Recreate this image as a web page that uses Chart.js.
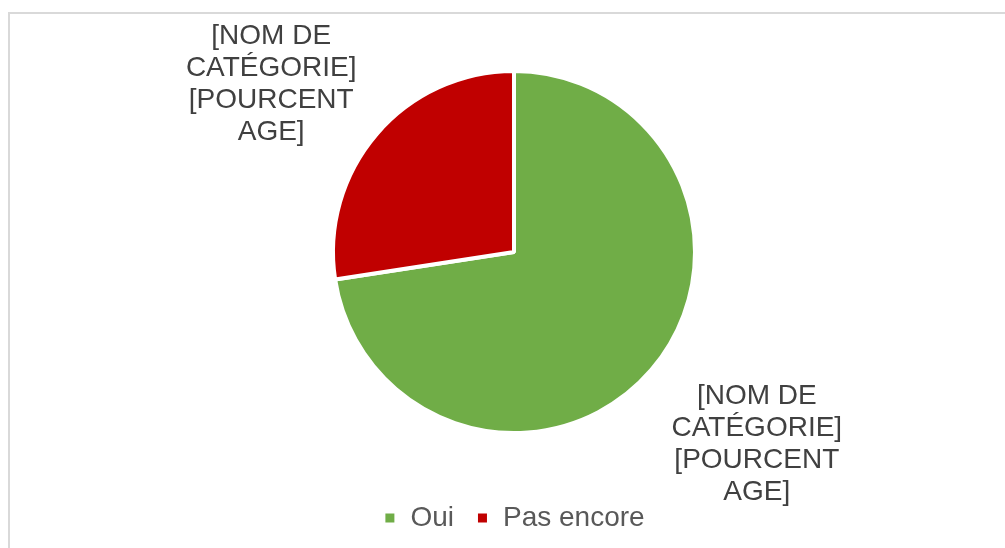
<!DOCTYPE html>
<html>
<head>
<meta charset="utf-8">
<script src="https://cdn.jsdelivr.net/npm/chart.js@4/dist/chart.umd.min.js"></script>
<style>
	html, body {
		margin: 0;
		padding: 0;
		width: 1005px;
		height: 548px;
		overflow: hidden;
		background: #ffffff;
	}
	#frame {
		position: absolute;
		left: 8px;
		top: 12px;
		width: 1100px;
		height: 600px;
		border: 2px solid #d9d9d9;
	}
	#wrap {
		position: absolute;
		left: 0;
		top: 0;
		width: 1005px;
		height: 548px;
	}
</style>
</head>
<body>
<div id="frame"></div>
<div id="wrap"><canvas id="pie"></canvas></div>
<script>
const categories = ["Oui", "Pas encore"];
const values = [45, 17];
const sliceColors = ["#70ad47", "#c00000"];
const dataLabelLines = ["[NOM DE", "CATÉGORIE]", "[POURCENT", "AGE]"];

// étiquettes de données placées hors du camembert, au milieu de chaque part
const outsideLabels = {
	id: "outsideLabels",
	afterDatasetsDraw(chart) {
		const {ctx} = chart;
		const meta = chart.getDatasetMeta(0);
		ctx.save();
		ctx.font = "28px 'Liberation Sans', Arial, sans-serif";
		ctx.fillStyle = "#404040";
		ctx.textAlign = "center";
		ctx.textBaseline = "middle";
		meta.data.forEach((arc) => {
			const mid = (arc.startAngle + arc.endAngle) / 2;
			const r = arc.outerRadius;
			const cx = arc.x + Math.cos(mid) * r * 1.768;
			const cy = arc.y + Math.sin(mid) * r * 1.525 + 12;
			dataLabelLines.forEach((line, i) => {
				ctx.fillText(line, cx, cy + (i - (dataLabelLines.length - 1) / 2) * 32);
			});
		});
		ctx.restore();
	}
};

const data = {
	labels: categories,
	datasets: [
		{
			data: values,
			backgroundColor: sliceColors,
			borderColor: "#ffffff",
			borderWidth: 4
		}
	]
};

const config = {
	type: "pie",
	data,
	options: {
		responsive: true,
		maintainAspectRatio: false,
		animation: false,
		layout: {
			padding: {left: 331, right: 308, top: 22, bottom: 6}
		},
		plugins: {
			legend: {
				position: "bottom",
				labels: {
					boxWidth: 13,
					boxHeight: 13,
					padding: 22,
					color: "#595959",
					font: {size: 28, family: "'Liberation Sans', Arial, sans-serif"}
				}
			},
			tooltip: {enabled: false}
		}
	},
	plugins: [outsideLabels]
};

new Chart(document.getElementById("pie"), config);
</script>
</body>
</html>
